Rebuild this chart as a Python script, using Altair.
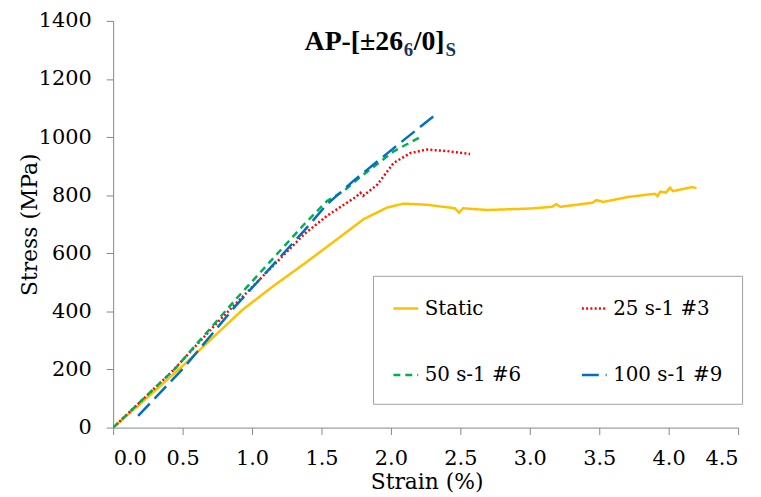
import altair as alt
import pandas as pd

# ---- data ----
series_names = ["Static", "25 s-1 #3", "50 s-1 #6", "100 s-1 #9"]
series_colors = ["#FFC000", "#FF0000", "#00B050", "#0070C0"]
series_dashes = [[1, 0], [2, 2.3], [7, 5], [17, 7]]

static_strain = [0.0, 0.25, 0.5, 0.93, 1.15, 1.376, 1.6, 1.805, 1.9, 1.97, 2.09, 2.26, 2.46,
                 2.49, 2.52, 2.69, 3.0, 3.16, 3.19, 3.22, 3.45, 3.48, 3.53, 3.71, 3.9, 3.92,
                 3.94, 3.98, 4.01, 4.03, 4.11, 4.17, 4.2]
static_stress = [0, 105, 212, 405, 486, 564, 644, 718, 740, 757, 771, 767, 755,
                 740, 755, 749, 754, 760, 769, 760, 774, 783, 777, 794, 805, 797,
                 812, 809, 826, 814, 822, 828, 824]

r25_strain = [0.0, 0.424, 0.745, 0.88, 1.376, 1.54, 1.75, 1.78, 1.80, 1.83, 1.9, 2.02,
              2.14, 2.257, 2.4, 2.57]
r25_stress = [0, 193, 359, 425, 666, 729, 795, 808, 798, 809, 835, 911,
              945, 957, 952, 942]

r50_strain = [0.0, 0.45, 0.88, 1.376, 1.54, 1.66, 1.757, 2.02, 2.22]
r50_stress = [0, 205, 440, 700, 780, 814, 854, 951, 1002]

r100_strain = [0.18, 0.507, 0.88, 1.376, 1.54, 1.73, 2.02, 2.305]
r100_stress = [40, 205, 418, 678, 769, 849, 962, 1071]

x_ticks = [0.0, 0.5, 1.0, 1.5, 2.0, 2.5, 3.0, 3.5, 4.0, 4.5]
y_ticks = [0, 200, 400, 600, 800, 1000, 1200, 1400]

rows = []
for name, xs, ys in zip(series_names,
                        [static_strain, r25_strain, r50_strain, r100_strain],
                        [static_stress, r25_stress, r50_stress, r100_stress]):
    for i, (a, b) in enumerate(zip(xs, ys)):
        rows.append({"series": name, "strain": a, "stress": b, "idx": i})
df = pd.DataFrame(rows)

FONT = "DejaVu Serif"
TFONT = "Liberation Serif"
AXC = "#868686"

legend = alt.Legend(
    title=None, orient="none", legendX=262, legendY=257, columns=2,
    direction="horizontal",
    symbolType="stroke", symbolSize=625, symbolStrokeWidth=2.5,
    labelFont=FONT, labelFontSize=20, labelColor="black", labelLimit=0,
    labelOffset=5, padding=19, rowPadding=43, columnPadding=55,
    strokeColor="#a0a0a0", fillColor="white",
)

lines = alt.Chart(df).mark_line(strokeWidth=2.5, clip=True).encode(
    x=alt.X("strain:Q", title="Strain (%)",
            scale=alt.Scale(domain=[0, 4.5], nice=False),
            axis=alt.Axis(values=x_ticks, format=".1f", labelPadding=13,
                          titleX=316, titleY=54, titleBaseline="middle")),
    y=alt.Y("stress:Q", title="Stress (MPa)",
            scale=alt.Scale(domain=[0, 1400], nice=False),
            axis=alt.Axis(values=y_ticks, format="d", labelPadding=15,
                          titleX=-84, titleY=205, titleBaseline="middle")),
    color=alt.Color("series:N", sort=series_names,
                    scale=alt.Scale(domain=series_names, range=series_colors),
                    legend=legend),
    strokeDash=alt.StrokeDash("series:N", sort=series_names,
                              scale=alt.Scale(domain=series_names, range=series_dashes),
                              legend=legend),
    detail="series:N",
    order="idx:Q",
)

one = pd.DataFrame({"a": [0]})
title_parts = [
    ("AP-[±26", 28, 193, 29, "black"),
    ("6", 19, 293, 35, "#17375E"),
    ("/0]", 28, 303, 29, "black"),
    ("S", 19, 335, 35, "#17375E"),
]
layers = [lines]
for txt, fs, px, py, col in title_parts:
    layers.append(
        alt.Chart(one).mark_text(text=txt, align="left", baseline="alphabetic",
                                 font=TFONT, fontSize=fs, fontWeight="bold", color=col)
        .encode(x=alt.value(px), y=alt.value(py))
    )

chart = (
    alt.layer(*layers)
    .properties(
        width=630, height=410,
        background="white",
        autosize=alt.AutoSizeParams(type="none"),
        padding={"left": 106, "top": 11, "right": 15, "bottom": 68},
    )
    .configure_view(stroke=None)
    .configure_axis(
        grid=False, domainColor=AXC, tickColor=AXC, tickSize=7,
        labelFont=FONT, labelFontSize=21, labelColor="black",
        titleFont=FONT, titleFontSize=22, titleFontWeight="normal", titleColor="black",
    )
)

chart.save("out.html", embed_options={"renderer": "svg", "actions": False})
